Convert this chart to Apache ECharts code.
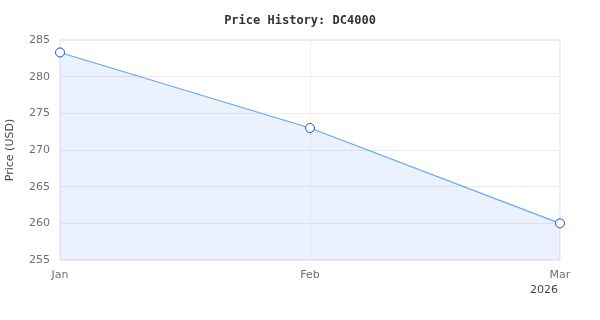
<!DOCTYPE html>
<html><head><meta charset="utf-8">
<script src="https://cdn.jsdelivr.net/npm/echarts@6/dist/echarts.min.js"></script>
<style>html,body{margin:0;padding:0;background:#fff}#c{width:600px;height:320px}</style>
</head><body><div id="c"></div>
<script>
const categories = ['Jan', 'Feb', 'Mar'];
const prices = [283.3, 273.0, 260.0];
const yTicks = [255, 260, 265, 270, 275, 280, 285];
const yearLabel = '2026';
const titleText = 'Price History: DC4000';
const yName = 'Price (USD)';

const chart = echarts.init(document.getElementById('c'), null, {renderer: 'canvas'});
chart.setOption({
  animation: false,
  backgroundColor: '#fff',
  title: [{
    text: titleText, left: 'center', top: 10,
    textStyle: {fontFamily: 'DejaVu Sans Mono', fontWeight: 'bold', fontSize: 12, color: '#333'}
  }, {
    text: yearLabel, right: 37, top: 280,
    textStyle: {fontFamily: 'DejaVu Sans', fontWeight: 'normal', fontSize: 11, color: '#444'}
  }],
  grid: {left: 60, right: 40, top: 40, bottom: 60, show: true, borderColor: '#dcdcdc', borderWidth: 1,
         containLabel: false, outerBoundsMode: 'none'},
  xAxis: {
    type: 'category', data: categories, boundaryGap: false,
    axisLine: {show: false}, axisTick: {show: false},
    axisLabel: {color: '#6b6f7b', fontSize: 11, fontFamily: 'DejaVu Sans', margin: 10},
    splitLine: {show: true, lineStyle: {color: '#f0f0f0', width: 1}}
  },
  yAxis: {
    type: 'value', min: yTicks[0], max: yTicks[yTicks.length - 1], interval: 5,
    name: yName, nameLocation: 'middle', nameGap: 44, nameRotate: 90,
    nameTextStyle: {color: '#444', fontSize: 11, fontFamily: 'DejaVu Sans'},
    axisLine: {show: false}, axisTick: {show: false},
    axisLabel: {color: '#6b6f7b', fontSize: 11, fontFamily: 'DejaVu Sans', margin: 10},
    splitLine: {show: true, lineStyle: {color: '#ebebeb', width: 1}}
  },
  series: [{
    type: 'line', data: prices,
    symbol: 'circle', symbolSize: 9, showAllSymbol: true,
    itemStyle: {color: '#fff', borderColor: '#1a4fe0', borderWidth: 1},
    lineStyle: {color: '#64a8f5', width: 1.2},
    areaStyle: {color: 'rgba(102,155,242,0.18)', origin: 'start'}
  }]
});
</script></body></html>
